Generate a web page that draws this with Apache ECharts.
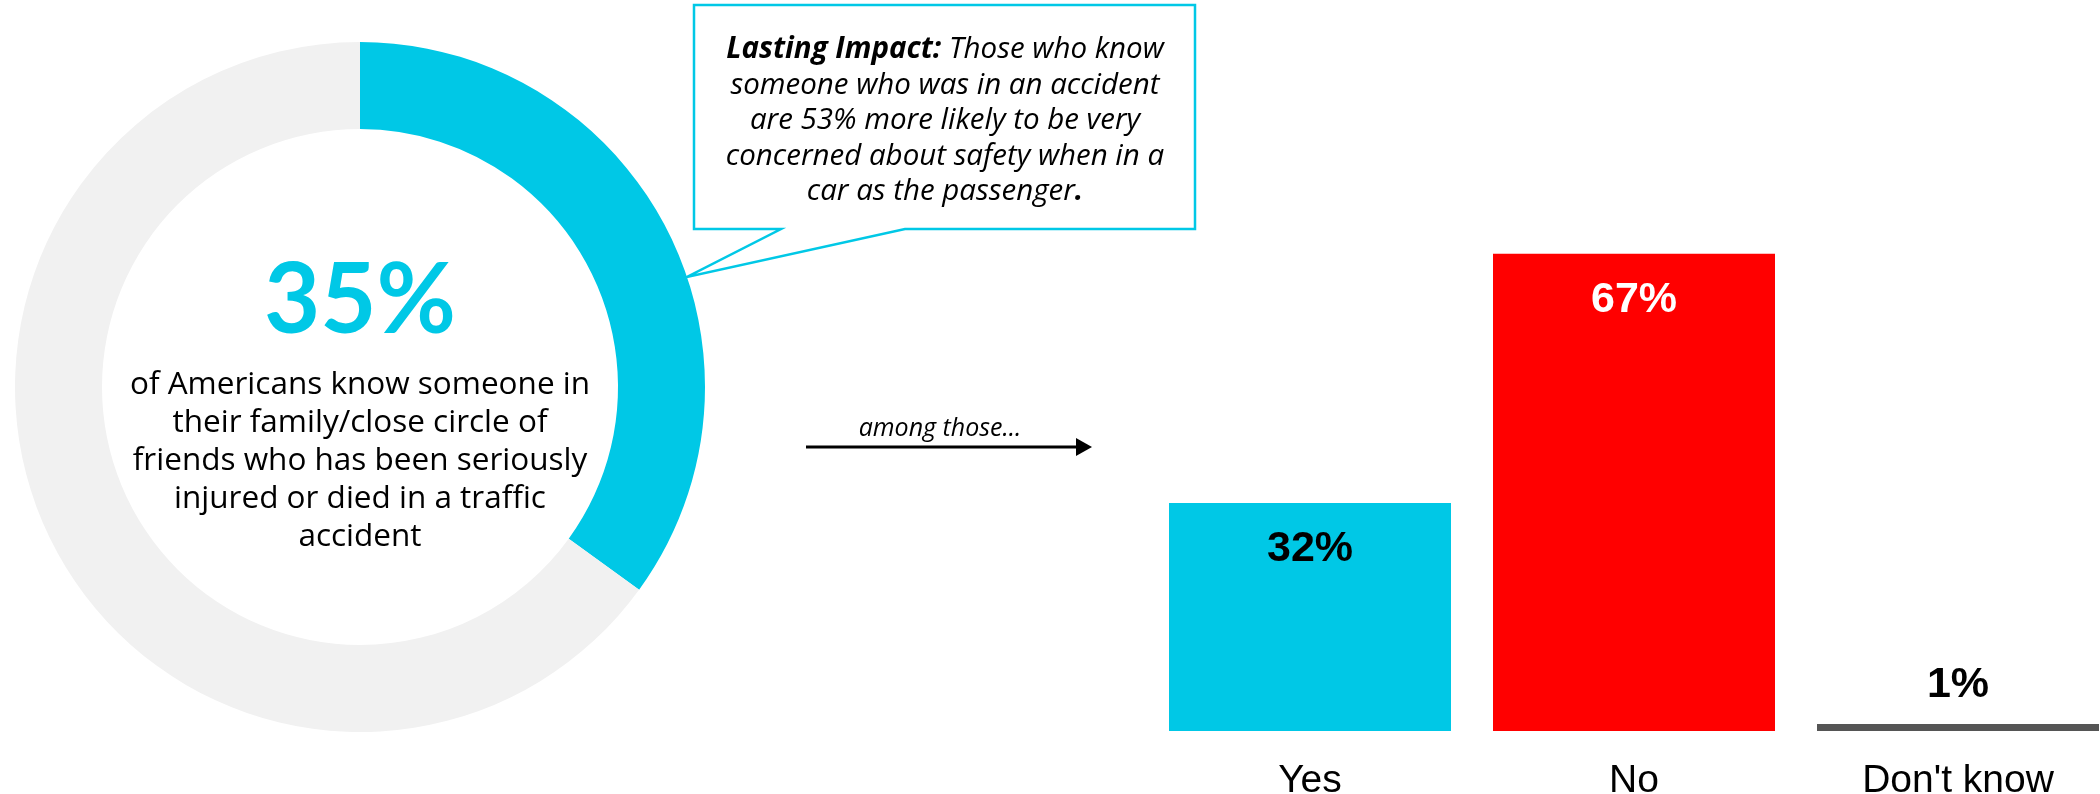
<!DOCTYPE html>
<html>
<head>
<meta charset="utf-8">
<script src="https://cdn.jsdelivr.net/npm/echarts@6/dist/echarts.min.js"></script>
<style>
html,body{margin:0;padding:0;background:#fff;}
#chart{width:2100px;height:794px;}
</style>
</head>
<body>
<div id="chart"></div>
<script>
// ---- data ----
const donutLabels = ['Know someone', 'Do not'];
const donutValues = [35, 65];
const donutCaption = ['of Americans know someone in', 'their family/close circle of', 'friends who has been seriously', 'injured or died in a traffic', 'accident'];
const calloutLines = ['{b|Lasting Impact:}{n| Those who know}', '{n|someone who was in an accident}', '{n|are 53% more likely to be very}', '{n|concerned about safety when in a}', '{n|car as the passenger}{b|.}'];
const arrowText = 'among those...';
const barCategories = ['Yes', 'No', "Don't know"];
const barValues = [32, 67, 1];

// ---- styles ----
const CYAN = '#00C8E6';
const RED = '#FF0000';
const GREY = '#555555';
const RING = '#F1F1F1';
const barColors = [CYAN, RED, GREY];
const barLabelColors = ['#000', '#fff', '#000'];
const TXT_FONT = "'Open Sans', sans-serif";

const chart = echarts.init(document.getElementById('chart'), null, {renderer: 'canvas'});

const barData = barValues.map((v, i) => {
  const big = v > 5;
  return {
    value: v,
    itemStyle: {color: barColors[i]},
    label: {
      show: true,
      position: big ? 'insideTop' : 'top',
      distance: big ? 25 : 17,
      color: barLabelColors[i],
      fontSize: 43,
      lineHeight: 43,
      fontWeight: 'bold',
      fontFamily: "'Liberation Sans', Arial, sans-serif",
      formatter: '{c}%'
    }
  };
});

const option = {
  backgroundColor: '#ffffff',
  animation: false,
  grid: {left: 1148, width: 972, top: 18.5, bottom: 63, containLabel: false, outerBoundsMode: 'none'},
  xAxis: {
    type: 'category',
    data: barCategories,
    axisLine: {show: false},
    axisTick: {show: false},
    axisLabel: {
      color: '#000',
      fontSize: 39,
      fontFamily: "'Liberation Sans', Arial, sans-serif",
      margin: 31
    }
  },
  yAxis: {type: 'value', min: 0, max: 100, show: false, splitLine: {show: false}},
  series: [
    {
      type: 'pie',
      center: [360, 387],
      radius: [258, 345],
      startAngle: 90,
      clockwise: true,
      silent: true,
      label: {show: false},
      labelLine: {show: false},
      emphasis: {disabled: true},
      data: donutValues.map((v, i) => ({name: donutLabels[i], value: v, itemStyle: {color: i === 0 ? CYAN : RING}}))
    },
    {
      type: 'bar',
      barWidth: 282,
      silent: true,
      data: barData
    }
  ],
  graphic: [
    {
      type: 'text',
      style: {
        text: donutValues[0] + '%',
        x: 360, y: 302,
        align: 'center', verticalAlign: 'middle',
        fontSize: 97, fontWeight: 'bold', fontFamily: 'Lato, sans-serif',
        fill: CYAN
      }
    },
    {
      type: 'text',
      style: {
        text: donutCaption.join('\n'),
        x: 360, y: 461,
        align: 'center', verticalAlign: 'middle',
        fontSize: 31.5, lineHeight: 38.2, fontFamily: TXT_FONT,
        fill: '#000'
      }
    },
    {
      type: 'polygon',
      shape: {points: [[694, 5], [1195, 5], [1195, 229], [905, 229], [687, 277], [781, 229], [694, 229]]},
      style: {fill: '#fff', stroke: CYAN, lineWidth: 2.5, lineJoin: 'miter'}
    },
    {
      type: 'text',
      style: {
        text: calloutLines.join('\n'),
        x: 945, y: 121,
        align: 'center', verticalAlign: 'middle',
        lineHeight: 35.5,
        rich: {
          b: {fontSize: 29.5, fontStyle: 'italic', fontWeight: 'bold', fontFamily: TXT_FONT, fill: '#000', lineHeight: 35.5},
          n: {fontSize: 29.5, fontStyle: 'italic', fontFamily: TXT_FONT, fill: '#000', lineHeight: 35.5}
        }
      }
    },
    {
      type: 'line',
      shape: {x1: 806, y1: 447, x2: 1080, y2: 447},
      style: {stroke: '#000', lineWidth: 3}
    },
    {
      type: 'polygon',
      shape: {points: [[1076, 438], [1092, 447], [1076, 456]]},
      style: {fill: '#000'}
    },
    {
      type: 'text',
      style: {
        text: arrowText,
        x: 940, y: 429,
        align: 'center', verticalAlign: 'middle',
        fontSize: 25, fontStyle: 'italic', fontFamily: TXT_FONT,
        fill: '#000'
      }
    }
  ]
};
chart.setOption(option);
</script>
</body>
</html>
